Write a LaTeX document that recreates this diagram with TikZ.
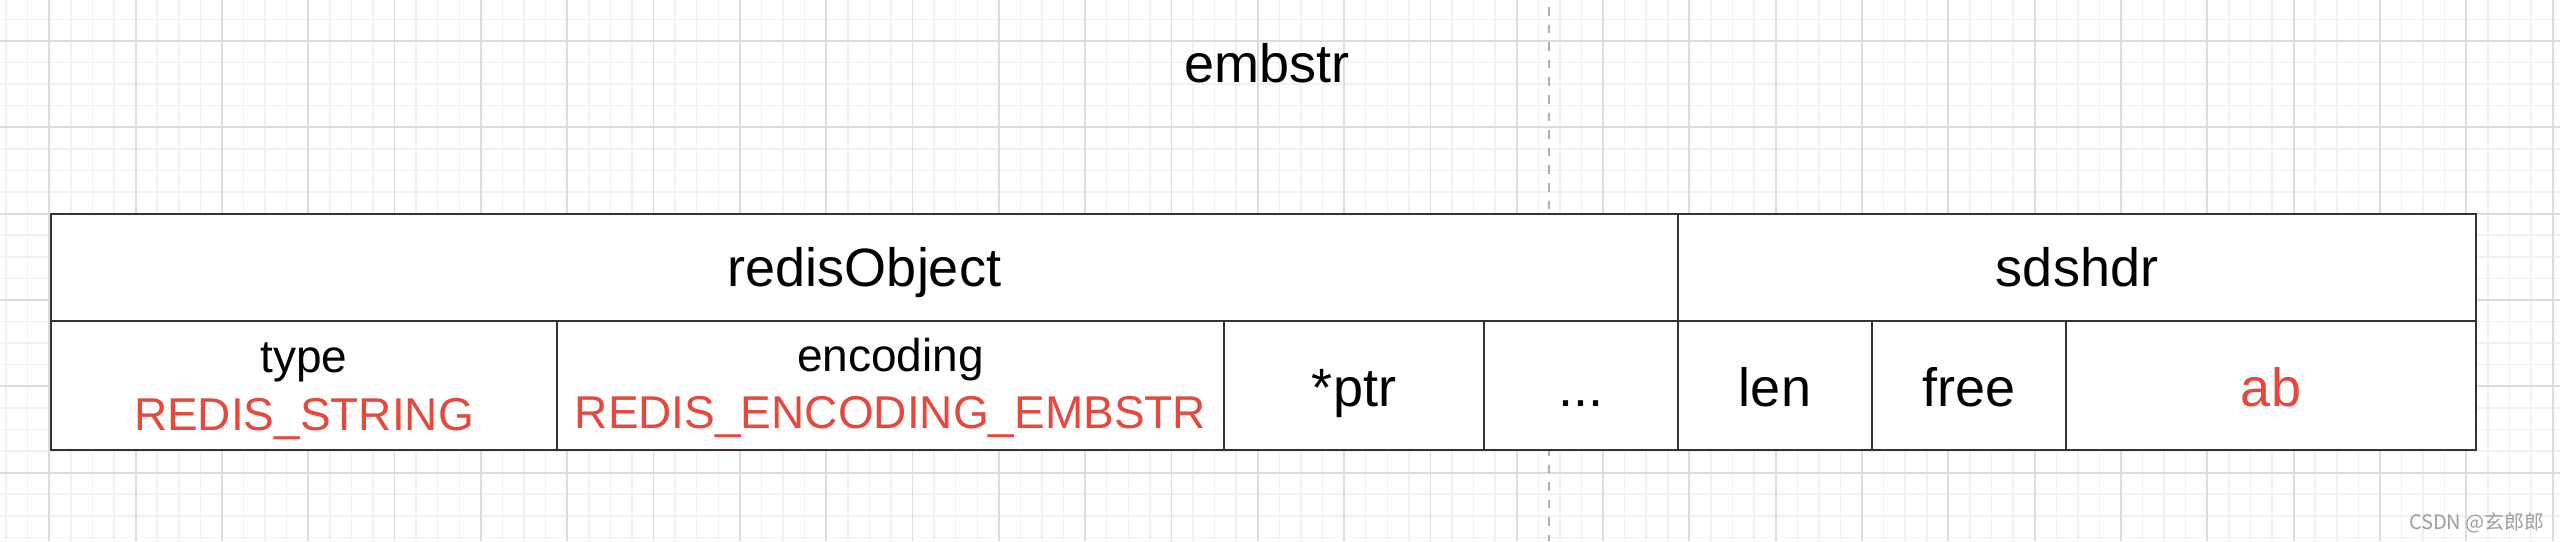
\documentclass[tikz,border=0pt]{standalone}
\usepackage{fontspec}
\setmainfont{Liberation Sans}
\newfontfamily\cjkfont{Noto Sans CJK SC}
\definecolor{redtxt}{RGB}{229,73,62}
\definecolor{gridminor}{RGB}{241,241,241}
\definecolor{gridmajor}{RGB}{220,220,220}
\definecolor{boxline}{RGB}{51,51,51}
\definecolor{dashgrey}{RGB}{176,176,176}
\begin{document}
\begin{tikzpicture}[x=1pt,y=-1pt,
  cell/.style={draw=boxline, line width=2.5pt, fill=white, inner sep=0pt, outer sep=0pt},
  maintxt/.style={font=\fontsize{54}{64}\selectfont, anchor=base, inner sep=0pt},
  subtxt/.style={font=\fontsize{46}{56}\selectfont, anchor=base, inner sep=0pt},
  minorline/.style={draw=gridminor, line width=1.5pt},
  majorline/.style={draw=gridmajor, line width=1.8pt},
]
\useasboundingbox (0,0) rectangle (2560,541);
\fill[white] (0,0) rectangle (2560,541);
% grid
\foreach \i in {-2,...,116} \draw[minorline] ({49.3+21.58*\i},0) -- ({49.3+21.58*\i},541);
\foreach \j in {-1,...,23} \draw[minorline] (0,{41+21.58*\j}) -- (2560,{41+21.58*\j});
\foreach \i in {0,...,29} \draw[majorline] ({49.3+86.32*\i},0) -- ({49.3+86.32*\i},541);
\foreach \j in {0,...,5} \draw[majorline] (0,{41+86.32*\j}) -- (2560,{41+86.32*\j});
% dashed divider
\coordinate (dtop) at (1549,0);
\coordinate (dbot) at (1549,541);
\draw[dashgrey, line width=2pt, dash pattern=on 8.6pt off 9pt, dash phase=10.6pt] (dtop) -- (dbot);
% title
\node[maintxt] (title) at (1267,82) {embstr};
% cells
\node[cell, minimum width=1627pt, minimum height=107pt] (robj) at (864.5,267.5) {};
\node[cell, minimum width=798pt, minimum height=107pt] (sds) at (2077,267.5) {};
\node[cell, minimum width=506pt, minimum height=129pt] (ctype) at (304,385.5) {};
\node[cell, minimum width=667pt, minimum height=129pt] (cenc) at (890.5,385.5) {};
\node[cell, minimum width=260pt, minimum height=129pt] (cptr) at (1354,385.5) {};
\node[cell, minimum width=194pt, minimum height=129pt] (cdots) at (1581,385.5) {};
\node[cell, minimum width=194pt, minimum height=129pt] (clen) at (1775,385.5) {};
\node[cell, minimum width=194pt, minimum height=129pt] (cfree) at (1969,385.5) {};
\node[cell, minimum width=410pt, minimum height=129pt] (cab) at (2271,385.5) {};
% texts
\node[maintxt] (trobj) at (864.5,286.5) {redisObject};
\node[maintxt] (tsds) at (2077,286.5) {sdshdr};
\node[subtxt] (ttype) at (304,372) {type};
\node[subtxt, text=redtxt] (ttypev) at (304,430) {REDIS\_STRING};
\node[subtxt] (tenc) at (890.5,371) {encoding};
\node[subtxt, text=redtxt] (tencv) at (890.5,428) {REDIS\_ENCODING\_EMBSTR};
\node[maintxt] (tptr) at (1354,406) {*ptr};
\node[maintxt] (tdots) at (1581,406) {...};
\node[maintxt] (tlen) at (1775,406) {len};
\node[maintxt] (tfree) at (1969,406) {free};
\node[maintxt, text=redtxt] (tab) at (2271,406) {ab};
% watermark
\node[font=\cjkfont\fontsize{20}{24}\selectfont, text=gray!75, anchor=base east, inner sep=0pt] (wm) at (2545,529) {CSDN @玄郎郎};
\end{tikzpicture}
\end{document}
